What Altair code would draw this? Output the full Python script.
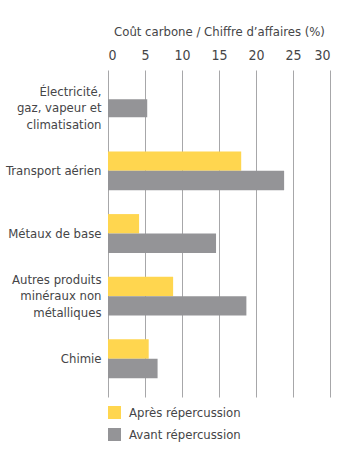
import altair as alt
import pandas as pd

categories = [
    "Électricité,|gaz, vapeur et|climatisation",
    "Transport aérien",
    "Métaux de base",
    "Autres produits|minéraux non|métalliques",
    "Chimie",
]
series = ["Après répercussion", "Avant répercussion"]
apres = [None, 18.0, 4.2, 8.8, 5.5]
avant = [5.3, 23.8, 14.6, 18.7, 6.7]
x_ticks = [0, 5, 10, 15, 20, 25, 30]

FONT = "DejaVu Sans Condensed"
TEXT = "#454547"
YELLOW = "#FFD64F"
GRAY = "#949497"

pair_rows, single_rows = [], []
for c, a, v in zip(categories, apres, avant):
    if a is None:
        single_rows.append({"cat": c, "series": series[1], "value": v})
    else:
        pair_rows.append({"cat": c, "series": series[0], "value": a})
        pair_rows.append({"cat": c, "series": series[1], "value": v})
pairs = pd.DataFrame(pair_rows)
singles = pd.DataFrame(single_rows)

x_enc = alt.X(
    "value:Q",
    scale=alt.Scale(domain=[0, 30], nice=False),
    axis=alt.Axis(
        orient="top",
        values=x_ticks,
        title="Coût carbone / Chiffre d’affaires (%)",
        grid=True,
        gridColor="#a7a7a9",
        gridWidth=1,
        domain=False,
        ticks=False,
        labelPadding=8,
        titlePadding=10,
        labelFontSize=14,
        titleFontSize=13,
        titleFontWeight="normal",
        labelColor=TEXT,
        titleColor=TEXT,
        labelFont=FONT,
        titleFont=FONT,
    ),
)
y_enc = alt.Y(
    "cat:N",
    sort=categories,
    scale=alt.Scale(domain=categories, paddingInner=0.38, paddingOuter=0.3),
    axis=alt.Axis(
        title=None,
        domain=False,
        ticks=False,
        grid=False,
        labelPadding=7,
        labelFontSize=13,
        labelFont=FONT,
        labelColor=TEXT,
        labelLineHeight=16.5,
        labelExpr="split(datum.label, '|')",
        labelOffset={
            "condition": {"test": "indexof(datum.value, '|') >= 0", "value": -16.5},
            "value": 0,
        },
    ),
)
color_enc = alt.Color(
    "series:N",
    scale=alt.Scale(domain=series, range=[YELLOW, GRAY]),
    legend=alt.Legend(
        title=None,
        orient="none",
        legendX=0,
        legendY=336,
        symbolType="square",
        symbolSize=169,
        symbolStrokeWidth=0,
        symbolOpacity=1,
        labelFontSize=13,
        labelFont=FONT,
        labelColor=TEXT,
        labelOffset=8,
        rowPadding=8,
    ),
)

paired = alt.Chart(pairs).mark_bar().encode(
    x=x_enc,
    y=y_enc,
    yOffset=alt.YOffset("series:N", scale=alt.Scale(domain=series, paddingInner=0, paddingOuter=0)),
    color=color_enc,
)
single = alt.Chart(singles).mark_bar(size=18).encode(
    x=x_enc,
    y=y_enc,
    color=color_enc,
)

chart = (
    alt.layer(paired, single)
    .properties(
        width=222,
        height=327,
        padding={"left": 108, "top": 70, "right": 21, "bottom": 64},
        autosize=alt.AutoSizeParams(type="none"),
        background="white",
    )
    .configure_view(stroke=None)
)

chart.save("out.html", embed_options={"renderer": "svg", "actions": False})
